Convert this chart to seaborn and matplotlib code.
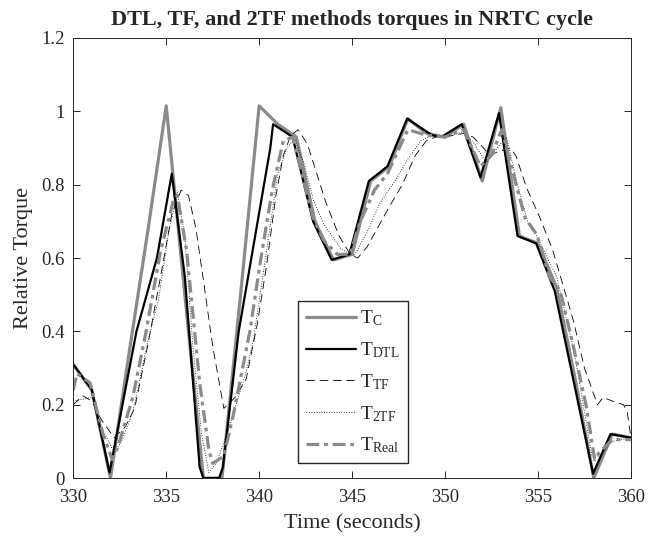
import pandas as pd
import matplotlib
matplotlib.use("Agg")
import matplotlib.pyplot as plt
import seaborn as sns

# Torque traces (time in seconds, relative torque)

t_c = [330, 331, 332, 333, 334, 335, 336, 337, 338, 339, 340, 341, 342, 343, 344, 345,
       346, 347, 348, 349, 350, 351, 352, 353, 354, 355, 356, 357, 358, 359, 360]
y_c = [0.31, 0.24, 0.0, 0.34, 0.67, 1.015, 0.5, 0.0, 0.0, 0.5, 1.015, 0.965, 0.93, 0.70, 0.595, 0.61,
       0.81, 0.85, 0.98, 0.94, 0.93, 0.965, 0.81, 1.01, 0.66, 0.64, 0.52, 0.27, 0.0, 0.12, 0.11]

t_dtl = [330, 331, 331.95, 333.4, 334.5, 335.3, 336.0, 336.8, 337.0, 337.85, 338.05, 338.9,
         340.6, 340.75, 341.8, 342.9, 343.9, 344.85, 345.9, 346.9, 347.96, 349.3, 349.8,
         350.9, 351.9, 352.9, 353.9, 354.9, 355.9, 357.96, 358.9, 360]
y_dtl = [0.31, 0.24, 0.015, 0.40, 0.60, 0.83, 0.55, 0.03, 0.0, 0.0, 0.03, 0.40,
         0.90, 0.965, 0.93, 0.70, 0.595, 0.61, 0.81, 0.85, 0.98, 0.935, 0.93,
         0.965, 0.82, 0.995, 0.66, 0.64, 0.51, 0.012, 0.12, 0.11]

t_tf = [330, 330.5, 331, 331.5, 332.2, 332.8, 333.3, 334.0, 334.7, 335.3, 335.8, 336.2,
        336.6, 337.0, 337.5, 338.1, 338.7, 339.3, 339.9, 340.4, 340.9, 341.3, 341.7, 342.1,
        342.6, 343.1, 343.6, 344.3, 344.9, 345.3, 345.8, 346.4, 347.0, 347.7, 348.4, 349.0,
        349.5, 350.0, 350.5, 351.0, 351.5, 351.9, 352.4, 352.85, 353.5, 353.8, 354.4, 355.1,
        355.8, 356.9, 357.5, 358.2, 358.5, 359.0, 359.6, 359.8, 360]
y_tf = [0.20, 0.225, 0.21, 0.16, 0.11, 0.14, 0.19, 0.36, 0.55, 0.72, 0.785, 0.77,
        0.68, 0.54, 0.36, 0.19, 0.22, 0.27, 0.42, 0.58, 0.77, 0.88, 0.935, 0.95,
        0.91, 0.83, 0.75, 0.66, 0.61, 0.60, 0.63, 0.685, 0.74, 0.80, 0.88, 0.92,
        0.93, 0.93, 0.935, 0.94, 0.93, 0.91, 0.88, 0.89, 0.90, 0.88, 0.79, 0.71,
        0.62, 0.43, 0.30, 0.20, 0.22, 0.21, 0.20, 0.18, 0.11]

t_2tf = [330, 331, 331.6, 332.2, 332.6, 333.2, 334.0, 334.6, 335.1, 335.6, 336.0, 336.45,
         336.9, 337.3, 337.7, 338.4, 339.3, 339.7, 340.4, 341.0, 341.5, 341.9, 342.4, 342.9,
         343.5, 344.4, 345.1, 345.8, 346.5, 347.3, 348.0, 348.7, 349.3, 350.0, 351.0, 351.6,
         352.2, 352.8, 353.3, 354.0, 354.5, 355.0, 355.5, 356.0, 357.0, 357.9, 358.3, 359.0, 360]
y_2tf = [0.21, 0.22, 0.13, 0.07, 0.10, 0.18, 0.37, 0.49, 0.66, 0.78, 0.66, 0.35,
         0.12, 0.015, 0.04, 0.14, 0.29, 0.38, 0.62, 0.83, 0.90, 0.925, 0.86, 0.76,
         0.69, 0.625, 0.605, 0.67, 0.75, 0.81, 0.87, 0.92, 0.935, 0.93, 0.945, 0.91,
         0.86, 0.90, 0.93, 0.78, 0.69, 0.655, 0.60, 0.55, 0.33, 0.06, 0.06, 0.10, 0.11]

t_real = [330, 330.2, 330.9, 331.6, 332.1, 332.4, 333.2, 333.9, 334.7, 335.4, 335.6, 336.1,
          336.8, 337.3, 337.5, 338.1, 338.6, 339.5, 340.05, 340.7, 341.3, 341.8, 342.9, 343.45,
          344.2, 344.9, 345.4, 346.2, 346.9, 348.0, 349.0, 350.0, 351.0, 351.9, 352.5, 353.05,
          353.9, 354.3, 354.85, 355.1, 355.6, 356.2, 356.9, 357.6, 358.05, 358.3, 359.0, 360]
y_real = [0.24, 0.285, 0.26, 0.12, 0.05, 0.085, 0.22, 0.395, 0.62, 0.76, 0.77, 0.62,
          0.26, 0.075, 0.04, 0.06, 0.17, 0.40, 0.585, 0.785, 0.92, 0.93, 0.71, 0.65,
          0.61, 0.61, 0.695, 0.785, 0.83, 0.95, 0.935, 0.93, 0.95, 0.85, 0.88, 0.95,
          0.785, 0.71, 0.67, 0.64, 0.55, 0.51, 0.36, 0.195, 0.05, 0.07, 0.105, 0.105]

sns.set_theme(style="ticks")
plt.rcParams["font.family"] = ["Liberation Serif", "DejaVu Serif"]
plt.rcParams["mathtext.fontset"] = "custom"
plt.rcParams["mathtext.rm"] = "Liberation Serif"
plt.rcParams["mathtext.it"] = "Liberation Serif:italic"
plt.rcParams["mathtext.bf"] = "Liberation Serif:bold"

fig = plt.figure(figsize=(6.6, 5.39), dpi=100)
ax = fig.add_axes([0.111, 0.113, 0.845, 0.8165])

sns.lineplot(x=t_c, y=y_c, ax=ax, color="#8a8a8a", linewidth=2.3,
             estimator=None, sort=False, label=r"T$_{\mathrm{C}}$")
sns.lineplot(x=t_dtl, y=y_dtl, ax=ax, color="black", linewidth=1.6,
             estimator=None, sort=False, label=r"T$_{\mathrm{DTL}}$")
sns.lineplot(x=t_tf, y=y_tf, ax=ax, color="black", linewidth=0.6, linestyle=(0, (10, 6)),
             estimator=None, sort=False, label=r"T$_{\mathrm{TF}}$")
sns.lineplot(x=t_2tf, y=y_2tf, ax=ax, color="black", linewidth=0.6, linestyle=(0, (1, 2)),
             estimator=None, sort=False, label=r"T$_{\mathrm{2TF}}$")
sns.lineplot(x=t_real, y=y_real, ax=ax, color="#8a8a8a", linewidth=2.3,
             linestyle=(0, (4, 1.5, 1.2, 1.5)),
             estimator=None, sort=False, label=r"T$_{\mathrm{Real}}$")

ax.set_xlim(330, 360)
ax.set_ylim(0, 1.2)
ax.set_xticks([330, 335, 340, 345, 350, 355, 360])
ax.set_yticks([0, 0.2, 0.4, 0.6, 0.8, 1, 1.2])
ax.set_yticklabels(["0", "0.2", "0.4", "0.6", "0.8", "1", "1.2"])
ax.tick_params(direction="in", top=True, right=True, labelsize=13.5, length=5,
               width=0.7, colors="#262626")
ax.tick_params(axis="x", pad=8)
ax.tick_params(axis="y", pad=6)
for side in ax.spines.values():
    side.set_color("#262626")
    side.set_linewidth(0.7)

ax.set_title("DTL, TF, and 2TF methods torques in NRTC cycle",
             fontsize=16, fontweight="bold", pad=9)
ax.set_xlabel("Time (seconds)", fontsize=16, color="#262626", labelpad=6)
ax.set_ylabel("Relative Torque", fontsize=16, color="#262626", labelpad=6)

ax.legend(loc="lower left", bbox_to_anchor=(0.403, 0.034), fontsize=14,
          fancybox=False, framealpha=1, edgecolor="#262626", handlelength=2.6,
          handletextpad=0.2, labelspacing=0.62, borderpad=0.4, borderaxespad=0)

plt.savefig("out.png", dpi=100)
